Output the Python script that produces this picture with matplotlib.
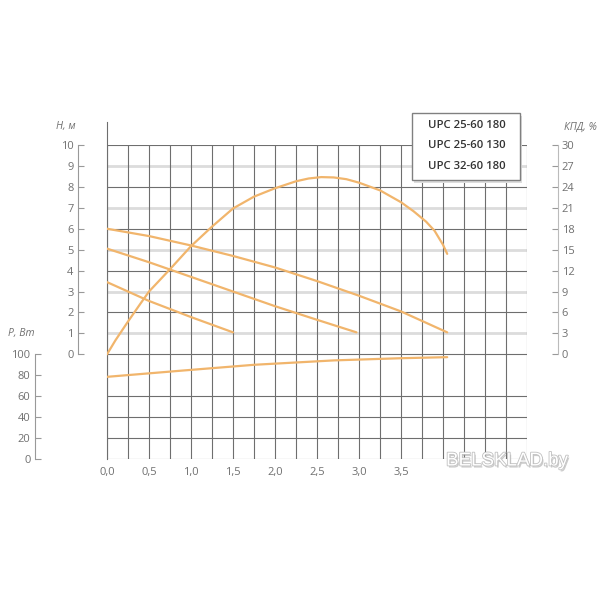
import matplotlib
matplotlib.use('agg')
import matplotlib.pyplot as plt
import matplotlib.patheffects as pe
from matplotlib.patches import Rectangle
import numpy as np

plt.rcParams['font.family'] = ['Open Sans', 'DejaVu Sans']

# H-Q curves (Q, m3/h -> H, m)
q_top = [0, 0.5, 1.0, 1.5, 2.0, 2.5, 3.0, 3.5, 4.05]
h_top = [6.0, 5.65, 5.2, 4.7, 4.15, 3.5, 2.8, 2.05, 1.05]
q_mid = [0, 0.5, 1.0, 1.5, 2.0, 2.5, 2.97]
h_mid = [5.05, 4.4, 3.7, 3.0, 2.3, 1.65, 1.05]
q_low = [0, 0.5, 1.0, 1.5]
h_low = [3.45, 2.55, 1.78, 1.05]

# efficiency, %
q_eff = [0, 0.1, 0.25, 0.4, 0.5, 0.75, 1.0, 1.25, 1.5, 1.75, 2.0, 2.25, 2.4,
         2.55, 2.7, 2.85, 3.0, 3.25, 3.5, 3.65, 3.8, 3.9, 4.0, 4.05]
eff = [0, 2.0, 4.7, 7.3, 9.0, 12.2, 15.5, 18.3, 20.9, 22.6, 23.8, 24.8, 25.2,
       25.4, 25.35, 25.1, 24.6, 23.5, 21.8, 20.5, 19.0, 17.7, 15.7, 14.4]

# power, W
q_pow = [0, 0.9, 1.75, 2.7, 3.5, 4.05]
p_pow = [78.5, 84.5, 90, 94.2, 96.3, 97.3]

x_labels = ['0,0', '0,5', '1,0', '1,5', '2,0', '2,5', '3,0', '3,5']
h_ticks = list(range(0, 11))
p_ticks = [0, 20, 40, 60, 80, 100]
k_ticks = list(range(0, 31, 3))
models = ['UPC 25-60 180', 'UPC 25-60 130', 'UPC 32-60 180']

ORANGE = '#f1b56c'
DARK = '#6e6e6e'
LIGHT = '#dcdcdc'
TXT = '#707070'

fig = plt.figure(figsize=(6, 6), dpi=100)
ax = fig.add_axes([107 / 600, 141 / 600, 420 / 600, 314 / 600])
ax.set_xlim(0, 5)
ax.set_ylim(-5, 10)

# grid
for h in h_ticks:
    if h % 2:
        ax.axhline(h, color=LIGHT, lw=2.0, zorder=1)
    else:
        ax.axhline(h, color=DARK, lw=0.8, zorder=2)
for p in [0, 20, 40, 60]:
    ax.axhline(p / 20 - 5, color=DARK, lw=0.8, zorder=2)
ax.vlines(np.arange(0, 5.01, 0.25), -5, 10, color=DARK, lw=0.8, zorder=2)
ax.plot([0, 0], [-5, 11.1], color=DARK, lw=0.8, clip_on=False, zorder=2)

for s in ['top', 'right', 'bottom']:
    ax.spines[s].set_visible(False)
ax.spines['left'].set_position(('outward', 21))
ax.spines['left'].set_bounds(0, 10)
ax.spines['left'].set_color('#999999')
ax.set_yticks(h_ticks)
ax.tick_params(axis='y', direction='in', length=4, color='#999999',
               labelcolor=TXT, labelsize=8, pad=3)
ax.set_xticks(np.arange(0, 3.51, 0.5), x_labels)
ax.tick_params(axis='x', length=0, labelcolor=TXT, labelsize=8, pad=6)

for q, h in [(q_top, h_top), (q_mid, h_mid), (q_low, h_low)]:
    ax.plot(q, h, color=ORANGE, lw=1.6, zorder=5, solid_capstyle='round')

# power axis (left, outer)
ax_p = ax.twinx()
ax_p.set_ylim(0, 300)
for s in ['top', 'right', 'bottom']:
    ax_p.spines[s].set_visible(False)
ax_p.spines['left'].set_visible(True)
ax_p.spines['left'].set_position(('outward', 52))
ax_p.spines['left'].set_bounds(0, 100)
ax_p.spines['left'].set_color('#999999')
ax_p.yaxis.set_ticks_position('left')
ax_p.yaxis.set_label_position('left')
ax_p.set_yticks(p_ticks)
ax_p.tick_params(axis='y', direction='in', length=4, color='#999999',
                 labelcolor=TXT, labelsize=8, pad=3)
ax_p.plot(q_pow, p_pow, color=ORANGE, lw=1.6, zorder=5, solid_capstyle='round')

# efficiency axis (right)
ax_k = ax.twinx()
ax_k.set_ylim(-15, 30)
for s in ['top', 'left', 'bottom']:
    ax_k.spines[s].set_visible(False)
ax_k.spines['right'].set_position(('outward', 22))
ax_k.spines['right'].set_bounds(0, 30)
ax_k.spines['right'].set_color('#bbbbbb')
ax_k.set_yticks(k_ticks)
ax_k.tick_params(axis='y', direction='in', length=4, color='#999999',
                 labelcolor=TXT, labelsize=8, pad=3)
ax_k.plot(q_eff, eff, color=ORANGE, lw=1.6, zorder=5,
          solid_capstyle='round', solid_joinstyle='round')

# axis titles
fig.text(66 / 600, 1 - 127 / 600, 'H, м', ha='center', va='center',
         style='italic', color=TXT, fontsize=7.5)
fig.text(580 / 600, 1 - 127 / 600, 'КПД, %', ha='center', va='center',
         style='italic', color=TXT, fontsize=7.5)
fig.text(21 / 600, 1 - 333 / 600, 'P, Вт', ha='center', va='center',
         style='italic', color=TXT, fontsize=7.5)

# legend box
fig.add_artist(Rectangle((414 / 600, 1 - 183 / 600), 108 / 600, 67 / 600,
                         transform=fig.transFigure, facecolor='#dddddd',
                         edgecolor='none', zorder=9))
fig.add_artist(Rectangle((411.5 / 600, 1 - 180 / 600), 108 / 600, 67 / 600,
                         transform=fig.transFigure, facecolor='white',
                         edgecolor='#808080', lw=1, zorder=10))
for i, m in enumerate(models):
    fig.text(467 / 600, 1 - (125.5 + 20.3 * i) / 600, m, ha='center', va='center',
             color='#333333', fontsize=8.2, fontweight='semibold', zorder=11)

# watermark
fig.text(507 / 600, 1 - 461 / 600, 'BELSKLAD.by', ha='center', va='center',
         family='Liberation Sans', fontsize=13.5, color='white', zorder=12,
         path_effects=[pe.withSimplePatchShadow(offset=(1, -1.5), shadow_rgbFace='#999999', alpha=0.5),
                       pe.withStroke(linewidth=1.2, foreground='#c0c0c0')])

fig.savefig('out.png', dpi=100, facecolor='white')
